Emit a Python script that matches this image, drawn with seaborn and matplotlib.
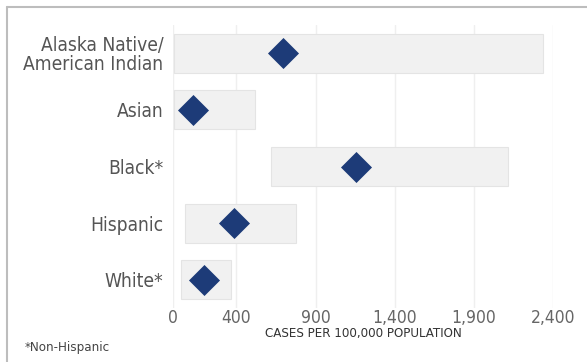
import pandas as pd
import seaborn as sns
import matplotlib.pyplot as plt
from matplotlib.lines import Line2D

# data
groups = ["Alaska Native/\nAmerican Indian", "Asian", "Black*", "Hispanic", "White*"]
range_low = [5, 5, 620, 75, 50]
range_high = [2335, 520, 2115, 775, 365]
rate = [695, 125, 1155, 385, 195]
x_ticks = [0, 400, 900, 1400, 1900, 2400]
x_tick_labels = ["0", "400", "900", "1,400", "1,900", "2,400"]

df = pd.DataFrame({"Group": groups, "Low": range_low, "High": range_high, "Rate": rate})

sns.set_theme(style="white")
plt.rcParams['font.family'] = ['Liberation Sans Narrow', 'DejaVu Sans']
plt.rcParams['font.stretch'] = 'condensed'

fig = plt.figure(figsize=(5.87, 3.62), dpi=100)
ax = fig.add_axes([173 / 587, 1 - 308 / 362, 380 / 587, 283 / 362])

# grey range bars
ax.barh(df["Group"], df["High"] - df["Low"], left=df["Low"], height=0.69,
        color="#f1f1f1", edgecolor="#e4e4e4", linewidth=0.8, zorder=2)

# point estimates
sns.scatterplot(data=df, x="Rate", y="Group", marker="D", s=250, color="#1d3b78",
                linewidth=0, ax=ax, zorder=3)

ax.set_xlim(0, 2400)
ax.set_ylim(len(groups) - 0.5, -0.5)
ax.set_xticks(x_ticks)
ax.set_xticklabels(x_tick_labels)
ax.tick_params(axis="x", labelsize=12.5, colors="#666666", length=0, pad=1)
ax.tick_params(axis="y", labelsize=13.8, colors="#555555", length=0, pad=7)
for lab in ax.get_yticklabels():
    lab.set_linespacing(1.0)
ax.grid(axis="x", color="#efefef", linewidth=1, zorder=0)
ax.grid(axis="y", visible=False)
for side in ax.spines.values():
    side.set_visible(False)

ax.set_xlabel("CASES PER 100,000 POPULATION", fontsize=9.5, color="#333333", labelpad=0)
ax.set_ylabel("")

fig.text(25 / 587, 1 - 347 / 362, "*Non-Hispanic", fontsize=9.5, color="#444444",
         va="center", ha="left")

# outer frame (top and left edges)
fig.add_artist(Line2D([7 / 587, 1], [1 - 7 / 362, 1 - 7 / 362], color="#bdbdbd", linewidth=1.5))
fig.add_artist(Line2D([7 / 587, 7 / 587], [0, 1 - 7 / 362], color="#bdbdbd", linewidth=1.5))

fig.savefig("out.png", dpi=100)
